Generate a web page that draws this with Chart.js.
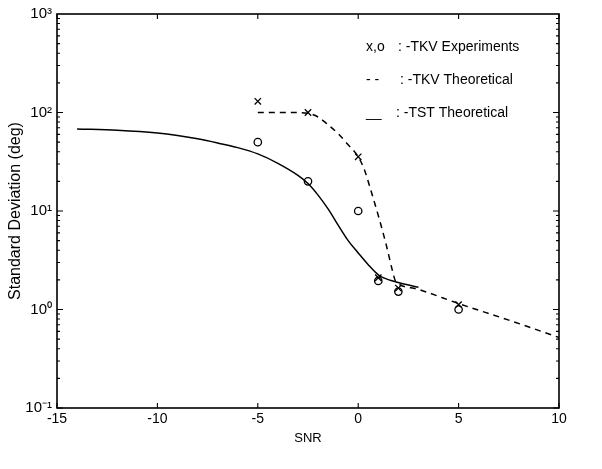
<!DOCTYPE html>
<html><head><meta charset="utf-8">
<script src="https://cdn.jsdelivr.net/npm/chart.js@4"></script>
<style>html,body{margin:0;padding:0;background:#fff;}#wrap{width:602px;height:469px;}</style>
</head><body><div id="wrap"><canvas id="c" width="602" height="469"></canvas></div>
<script>
const xTickValues = [-15, -10, -5, 0, 5, 10];
const yTickValues = [0.1, 1, 10, 100, 1000];
const yTickLabels = ['10\u207B\u00B9', '10\u2070', '10\u00B9', '10\u00B2', '10\u00B3'];
const xAxisTitle = 'SNR';
const yAxisTitle = 'Standard Deviation (deg)';

// TST theoretical (solid)
const tstSNR = [-14, -12, -10, -9, -8, -7, -6, -5, -4, -3, -2.5, -2, -1.5, -1, -0.5, 0, 0.5, 1, 1.3, 2, 3];
const tstStd = [68, 66, 62, 58.5, 54, 49, 44, 38, 30.5, 23, 19, 14.5, 10.5, 7.2, 5.0, 3.75, 2.85, 2.25, 2.08, 1.88, 1.68];

// TKV theoretical (dashed)
const tkvSNR = [-5, -3.5, -2.5, -2, -1.5, -1, -0.5, 0, 0.3, 0.6, 1, 1.4, 1.7, 1.85, 2, 3, 5, 7.5, 10];
const tkvStd = [100, 100, 98, 90, 75, 61, 47, 35.5, 26.5, 17, 9, 4.5, 2.5, 1.95, 1.82, 1.6, 1.15, 0.78, 0.52];

// TKV experiments (x and o markers)
const expSNR = [-5, -2.5, 0, 1, 2, 5];
const expX = [130, 100, 35.5, 2.1, 1.65, 1.12];
const expO = [50, 20, 10, 1.95, 1.52, 1.0];

const legendMarks = ['x,o', '- -', '__'];
const legendLabels = [': -TKV Experiments', ': -TKV Theoretical', ': -TST Theoretical'];

const FONT = '"Liberation Sans", Arial, Helvetica, sans-serif';
const pts = (xs, ys) => xs.map((x, i) => ({x: x, y: ys[i]}));

const framePlugin = {
  id: 'frame',
  afterDraw(chart) {
    const {ctx, chartArea: a, scales: {x, y}} = chart;
    ctx.save();
    ctx.strokeStyle = '#000';
    ctx.lineWidth = 1.6;
    ctx.strokeRect(a.left, a.top, a.right - a.left, a.bottom - a.top);
    ctx.lineWidth = 1.1;
    ctx.beginPath();
    xTickValues.forEach(v => {
      const px = x.getPixelForValue(v);
      ctx.moveTo(px, a.bottom); ctx.lineTo(px, a.bottom - 5);
      ctx.moveTo(px, a.top); ctx.lineTo(px, a.top + 5);
    });
    for (let e = -1; e <= 2; e++) {
      for (let m = 1; m <= 9; m++) {
        const v = m * Math.pow(10, e);
        const py = y.getPixelForValue(v);
        const len = m === 1 ? 6 : 3;
        ctx.moveTo(a.left, py); ctx.lineTo(a.left + len, py);
        ctx.moveTo(a.right, py); ctx.lineTo(a.right - len, py);
      }
    }
    ctx.stroke();
    // legend text
    ctx.fillStyle = '#000';
    ctx.font = '14px ' + FONT;
    ctx.textBaseline = 'middle';
    ctx.textAlign = 'left';
    const rows = [47, 80, 113];
    const markX = [366, 366, 366];
    const labX = [398, 400, 396];
    rows.forEach((ry, i) => {
      ctx.fillText(legendMarks[i], markX[i], ry);
      ctx.fillText(legendLabels[i], labX[i], ry);
    });
    ctx.restore();
  }
};

new Chart(document.getElementById('c'), {
  type: 'line',
  data: {
    datasets: [
      {label: 'TST Theoretical', data: pts(tstSNR, tstStd), borderColor: '#000', borderWidth: 1.5,
       pointRadius: 0, fill: false, cubicInterpolationMode: 'monotone'},
      {label: 'TKV Theoretical', data: pts(tkvSNR, tkvStd), borderColor: '#000', borderWidth: 1.5,
       borderDash: [6, 5], pointRadius: 0, fill: false, cubicInterpolationMode: 'monotone'},
      {label: 'TKV Experiments x', data: pts(expSNR, expX), showLine: false, pointStyle: 'crossRot',
       pointRadius: 4.5, borderColor: '#000', borderWidth: 1.3, backgroundColor: '#000'},
      {label: 'TKV Experiments o', data: pts(expSNR, expO), showLine: false, pointStyle: 'circle',
       pointRadius: 3.7, borderColor: '#000', borderWidth: 1.3, backgroundColor: 'rgba(0,0,0,0)'}
    ]
  },
  options: {
    responsive: false,
    animation: false,
    layout: {padding: {top: 13, right: 43, bottom: 0, left: 0}},
    plugins: {legend: {display: false}, tooltip: {enabled: false}},
    scales: {
      x: {
        type: 'linear', min: -15, max: 10,
        afterBuildTicks: s => { s.ticks = xTickValues.map(v => ({value: v})); },
        grid: {display: false, drawTicks: false},
        border: {display: false},
        ticks: {color: '#000', font: {family: FONT, size: 14}, padding: 3, maxRotation: 0,
                callback: v => String(v)},
        title: {display: true, text: xAxisTitle, color: '#000', font: {family: FONT, size: 13},
                padding: {top: 0, bottom: 23}},
        afterFit: s => { s.height = 61; }
      },
      y: {
        type: 'logarithmic', min: 0.1, max: 1000,
        afterBuildTicks: s => { s.ticks = yTickValues.map(v => ({value: v, major: true})); },
        grid: {display: false, drawTicks: false},
        border: {display: false},
        ticks: {color: '#000', font: {family: FONT, size: 15}, padding: 5,
                callback: v => {
                  const i = yTickValues.findIndex(t => Math.abs(t - v) / t < 1e-6);
                  return i >= 0 ? yTickLabels[i] : '';
                }},
        title: {display: true, text: yAxisTitle, color: '#000', font: {family: FONT, size: 16},
                padding: {top: 6, bottom: 0}},
        afterFit: s => { s.width = 57; }
      }
    }
  },
  plugins: [framePlugin]
});
</script>
</body></html>
